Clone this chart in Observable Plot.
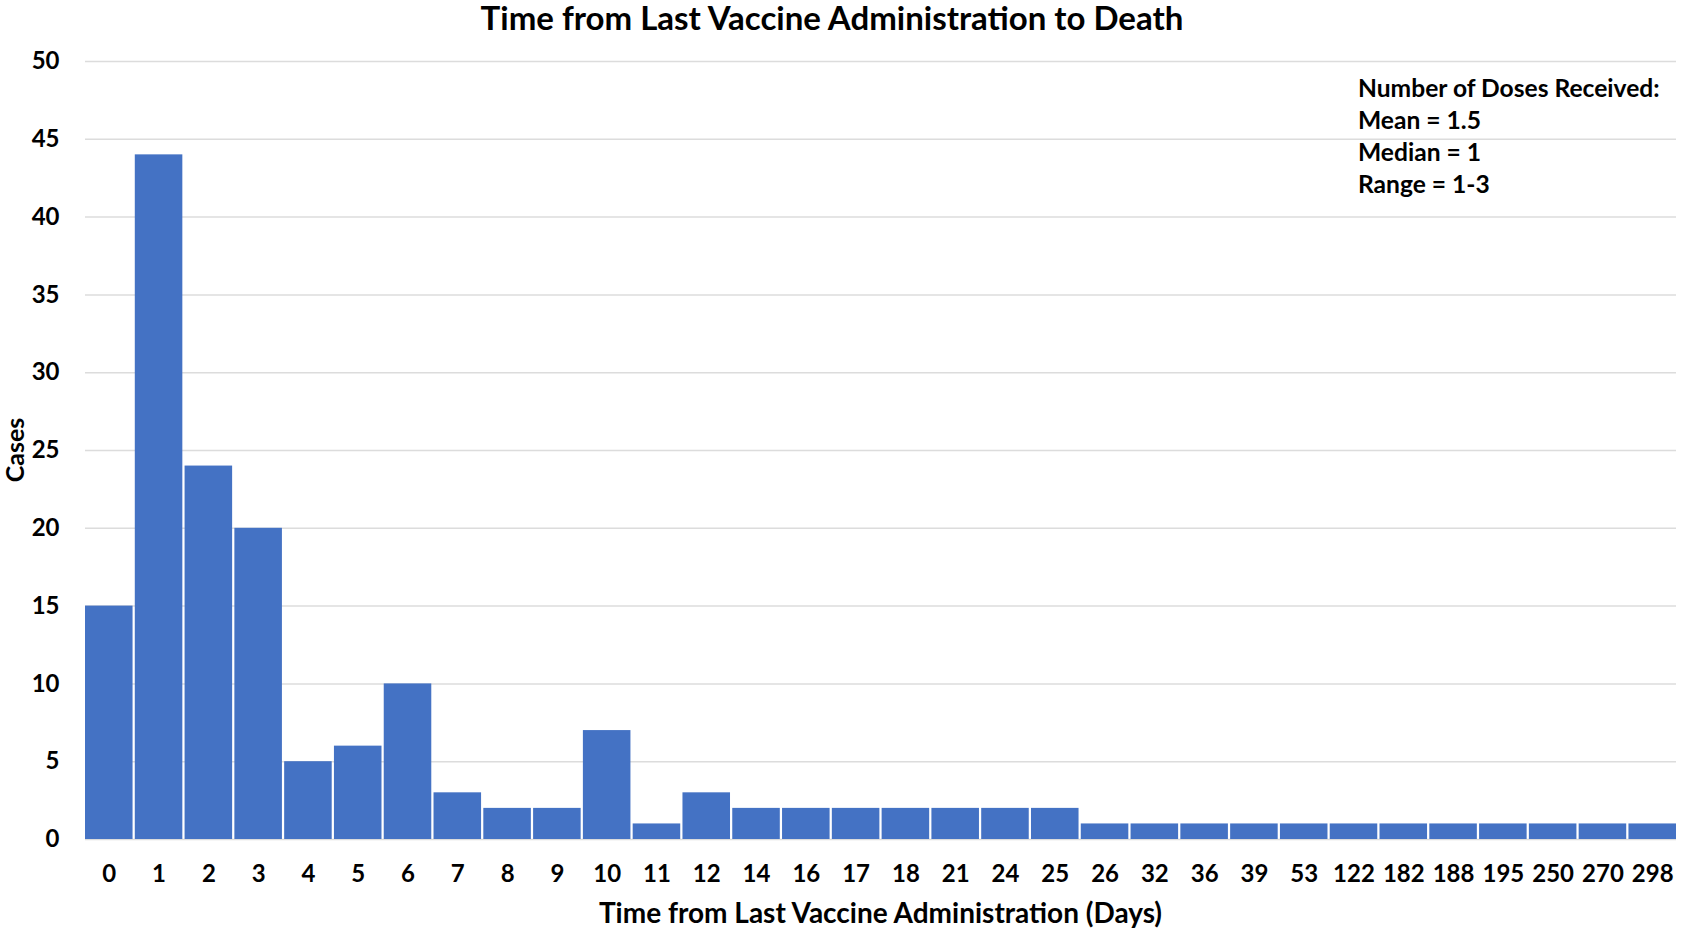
<!DOCTYPE html>
<html>
<head>
<meta charset="utf-8">
<script src="https://cdn.jsdelivr.net/npm/d3@7"></script>
<script src="https://cdn.jsdelivr.net/npm/@observablehq/plot@0.6"></script>
<style>
  html, body { margin: 0; padding: 0; background: #fff; }
  #wrap { position: relative; width: 1681px; height: 930px; font-family: Lato, "Open Sans", sans-serif; color: #000; }
  #chart { position: absolute; top: 0; left: 0; }
  .lbl { position: absolute; font-weight: 700; white-space: nowrap; }
  #title { top: 0; left: 0; width: 1664px; text-align: center; font-size: 33px; line-height: 34px; }
  #xlabel { top: 895px; left: 85px; width: 1591px; text-align: center; font-size: 28px; line-height: 34px; }
  #ylabel { left: 14px; top: 450px; font-size: 25px; line-height: 28px; transform: translate(-50%, -50%) rotate(-90deg); }
  #note { left: 1358px; top: 72px; font-size: 24.6px; line-height: 32px; }
</style>
</head>
<body>
<div id="wrap">
  <div id="chart"></div>
  <div id="title" class="lbl"></div>
  <div id="xlabel" class="lbl"></div>
  <div id="ylabel" class="lbl"></div>
  <div id="note" class="lbl"></div>
</div>
<script>
const days = ["0","1","2","3","4","5","6","7","8","9","10","11","12","14","16","17","18","21","24","25","26","32","36","39","53","122","182","188","195","250","270","298"];
const cases = [15,44,24,20,5,6,10,3,2,2,7,1,3,2,2,2,2,2,2,2,1,1,1,1,1,1,1,1,1,1,1,1];
const yTicks = [0,5,10,15,20,25,30,35,40,45,50];
const noteLines = ["Number of Doses Received:", "Mean = 1.5", "Median = 1", "Range = 1-3"];
const titleText = "Time from Last Vaccine Administration to Death";
const xLabel = "Time from Last Vaccine Administration (Days)";
const yLabel = "Cases";

const data = days.map((d, i) => ({day: d, cases: cases[i]}));

const chart = Plot.plot({
  width: 1681,
  height: 930,
  marginTop: 61,
  marginBottom: 91,
  marginLeft: 85,
  marginRight: 5,
  style: {fontFamily: "Lato, 'Open Sans', sans-serif", fontSize: "24px", fontWeight: 700, color: "#000", background: "#fff"},
  x: {domain: days, paddingInner: 0.045, paddingOuter: 0, round: false, label: null},
  y: {domain: [0, 50], label: null},
  marks: [
    Plot.gridY(yTicks, {stroke: "#dcdcdc", strokeOpacity: 1, strokeWidth: 1.5}),
    Plot.barY(data, {x: "day", y: "cases", fill: "#4472C4"}),
    Plot.axisY(yTicks, {tickSize: 0, tickPadding: 26, label: null, fontSize: 24, fontWeight: 700}),
    Plot.axisX({tickSize: 0, tickPadding: 25, label: null, fontSize: 24, fontWeight: 700})
  ]
});
document.getElementById("chart").appendChild(chart);

document.getElementById("title").textContent = titleText;
document.getElementById("xlabel").textContent = xLabel;
document.getElementById("ylabel").textContent = yLabel;
const note = document.getElementById("note");
noteLines.forEach(t => { const d = document.createElement("div"); d.textContent = t; note.appendChild(d); });
</script>
</body>
</html>
